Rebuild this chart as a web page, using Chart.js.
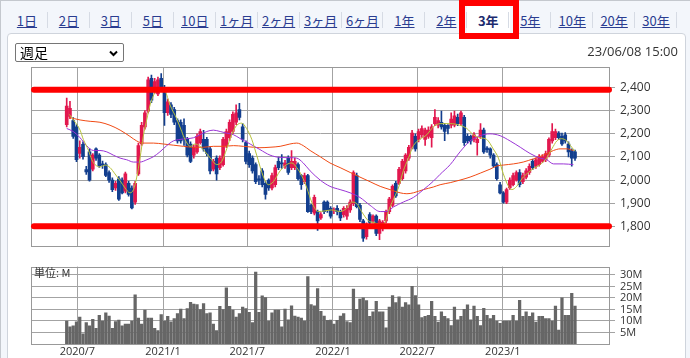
<!DOCTYPE html>
<html><head><meta charset="utf-8">
<script src="https://cdn.jsdelivr.net/npm/chart.js@4"></script>
<style>
html,body{margin:0;padding:0;width:690px;height:358px;overflow:hidden;background:#fff;}
#wrap{position:absolute;left:0;top:0;width:690px;height:358px;background:#f3f6fb;}
#outerL{position:absolute;left:0;top:0;width:1px;height:358px;background:#c4c8ce;}
#outerT{position:absolute;left:0;top:0;width:690px;height:1px;background:#c4c8ce;}
#panel{position:absolute;left:7px;top:33px;width:679px;height:340px;background:#fff;border:1px solid #cfd4dc;border-radius:4px;box-sizing:border-box;}
.tab{position:absolute;top:11px;height:18px;line-height:18px;text-align:center;font:13px "Noto Sans CJK JP",sans-serif;color:#2a3c90;z-index:3;}
.tab span{text-decoration:underline;}
.sep{position:absolute;top:12px;width:1px;height:16px;background:#d6dbe4;z-index:3;}
#selbg{position:absolute;left:467px;top:5px;width:43px;height:29px;background:#fff;z-index:2;}
#redbox{position:absolute;left:459px;top:0px;width:60px;height:39px;border:6px solid #ff0000;box-sizing:border-box;z-index:5;}
#sel{position:absolute;left:15px;top:43px;width:109px;height:19px;box-sizing:border-box;border:1px solid #767676;border-radius:2px;background:#fff;font:14px "Noto Sans CJK JP",sans-serif;line-height:17px;padding-left:4px;color:#000;z-index:4;}
#sel svg{position:absolute;right:5px;top:6px;}
#stamp{position:absolute;left:540px;top:43px;width:138px;text-align:right;font:13px "Open Sans",sans-serif;line-height:17px;color:#333;z-index:4;}
#unit{position:absolute;left:34px;top:266px;font:11px "Noto Sans CJK JP",sans-serif;line-height:13px;color:#333;z-index:4;}
canvas{position:absolute;left:0;z-index:3;}
#pc{top:55px;}
#vc{top:255px;}
</style></head>
<body>
<div id="wrap">
  <div id="outerT"></div><div id="outerL"></div>
  <div id="panel"></div>
  <div id="selbg"></div>
  <div id="tabs"></div>
  <div id="redbox"></div>
  <div id="sel">週足<svg width="9" height="7" viewBox="0 0 9 7"><path d="M1 1.5 L4.5 5 L8 1.5" fill="none" stroke="#000" stroke-width="2"/></svg></div>
  <div id="stamp">23/06/08 15:00</div>
  <canvas id="pc" width="690" height="203"></canvas>
  <canvas id="vc" width="690" height="103"></canvas>
  <div id="unit">単位: M</div>
</div>
<script>
// ---------------- data ----------------
const tabNames = ['1日','2日','3日','5日','10日','1ヶ月','2ヶ月','3ヶ月','6ヶ月','1年','2年','3年','5年','10年','20年','30年'];
const selectedTab = 11;

const firstWeek = '2020-06-08';
const gridDates = ['2020-07-01','2021-01-01','2021-07-01','2022-01-01','2022-07-01','2023-01-01'];
const gridLabels = ['2020/7','2021/1','2021/7','2022/1','2022/7','2023/1'];

const priceTicks = [1800,1900,2000,2100,2200,2300,2400];
const volumeTicks = [5,10,15,20,25,30];
const levelLines = [2390,1801];

const openP = [2240,2275,2257,2230,2115,2155,2045,2122,2047,2135,
2108,2070,2067,2033,2000,1966,2006,2000,1952,1986,
1966,1905,2027,2156,2230,2298,2440,2386,2372,2440,
2400,2291,2325,2305,2257,2250,2237,2176,2156,2108,
2122,2162,2176,2176,2135,2047,2095,2054,2067,2149,
2183,2210,2250,2305,2230,2162,2115,2095,2067,2005,
2040,1986,2000,1966,1980,2081,2075,2060,2095,2054,
2054,2067,2020,1993,2020,1891,1857,1864,1837,1905,
1905,1878,1868,1878,1864,1851,1844,1871,1898,2020,
1891,1824,1756,1851,1824,1844,1769,1790,1824,1864,
1891,1986,1986,2006,2040,2095,2142,2189,2176,2196,
2176,2189,2183,2244,2237,2250,2237,2237,2237,2237,
2271,2244,2271,2189,2189,2176,2162,2189,2216,2138,
2135,2108,2067,1980,1945,1905,1966,1980,2000,2033,
1993,2013,2033,2081,2060,2067,2081,2088,2108,2169,
2183,2203,2189,2196,2156,2128,2122];
const highP = [2355,2340,2270,2240,2170,2165,2060,2135,2115,2140,
2115,2082,2075,2040,2010,1995,2015,2010,2035,1995,
1975,1995,2160,2250,2300,2445,2454,2440,2445,2460,
2410,2350,2335,2315,2265,2260,2265,2185,2165,2150,
2200,2220,2215,2185,2145,2090,2105,2105,2185,2220,
2260,2295,2325,2332,2244,2170,2125,2105,2075,2020,
2050,1995,2005,2030,2065,2100,2110,2085,2105,2128,
2095,2075,2025,2030,2025,1895,1935,1870,1860,1910,
1910,1885,1880,1890,1870,1885,1890,1915,2040,2030,
1900,1830,1815,1860,1850,1850,1830,1825,1870,1925,
1980,1995,2055,2090,2115,2150,2215,2200,2220,2235,
2225,2230,2240,2305,2270,2298,2245,2240,2291,2298,
2285,2298,2280,2200,2195,2205,2185,2244,2225,2145,
2140,2115,2075,1990,1950,1965,2010,2030,2040,2045,
2030,2050,2070,2090,2095,2110,2110,2125,2183,2244,
2220,2210,2203,2205,2165,2135,2130];
const lowP = [2230,2265,2180,2080,2095,2090,2025,1995,2040,2085,
2055,2050,2015,1990,1950,1955,1912,1940,1945,1930,
1875,1895,2020,2150,2220,2290,2335,2375,2365,2385,
2236,2280,2270,2240,2160,2160,2150,2100,2075,2095,
2115,2155,2125,2105,2027,2040,2000,2045,2060,2140,
2170,2200,2240,2260,2165,2070,2055,2030,1985,1980,
1970,1918,1955,1958,1970,2045,2050,2050,2025,2045,
2045,2000,1960,1985,1860,1855,1850,1783,1830,1855,
1860,1835,1855,1850,1825,1840,1830,1860,1890,1880,
1820,1735,1745,1810,1815,1760,1742,1780,1815,1855,
1885,1925,1980,2000,2030,2085,2135,2125,2165,2185,
2150,2180,2142,2235,2225,2220,2170,2200,2225,2230,
2235,2235,2150,2160,2155,2165,2108,2180,2115,2120,
2095,2055,2000,1940,1900,1898,1960,1975,1995,1970,
1985,2005,2025,2045,2050,2060,2075,2080,2100,2160,
2175,2175,2150,2160,2100,2060,2085];
const closeP = [2320,2310,2189,2088,2142,2101,2035,2000,2108,2095,
2061,2065,2020,2000,1959,1986,1918,1945,2027,1938,
1880,1986,2149,2237,2291,2433,2345,2426,2433,2393,
2291,2338,2284,2250,2169,2169,2176,2108,2081,2142,
2189,2210,2135,2115,2040,2081,2027,2095,2176,2210,
2250,2284,2291,2271,2176,2081,2067,2040,1993,2000,
1980,1938,1966,2020,2054,2054,2070,2074,2033,2081,
2081,2006,1980,2020,1864,1864,1925,1824,1851,1864,
1871,1844,1872,1864,1837,1878,1878,1905,2033,1885,
1830,1749,1810,1817,1844,1769,1824,1817,1864,1918,
1973,1932,2047,2081,2108,2142,2203,2135,2210,2223,
2216,2216,2230,2271,2257,2230,2210,2223,2264,2278,
2244,2291,2162,2169,2169,2196,2176,2216,2122,2132,
2108,2061,2006,1945,1905,1959,2000,2020,2033,1980,
2020,2040,2060,2054,2088,2101,2101,2115,2176,2210,
2210,2183,2156,2169,2122,2095,2095];

const volumeM = [10.0,7.5,7.9,9.6,11.7,4.4,9.3,7.9,10.7,6.8,
12.4,10.0,13.5,12.1,6.8,9.7,10.4,7.9,8.6,8.6,
10.0,21.3,11.3,8.7,14.7,11.3,11.3,6.8,5.8,12.8,
10.0,12.0,9.6,11.0,13.2,15.2,11.0,15.4,18.1,17.3,
17.1,14.9,17.5,13.2,13.5,8.6,5.8,16.4,14.9,24.4,
16.4,14.7,11.7,13.2,16.0,15.4,13.8,9.3,31.2,13.8,
20.9,20.2,9.9,13.5,14.7,14.7,7.5,15.2,10.5,16.6,
12.1,11.7,11.3,9.9,29.3,17.1,16.6,24.1,14.2,12.1,
10.3,10.4,8.6,10.3,12.1,13.2,9.7,9.3,23.8,15,
19.5,20,18.8,12,14,18.5,14,14,7,16,
21,18,20.5,16,18,17,25,21,17,11.5,
12,12.5,18.5,12,9.5,14,12,11,8,16,
10.5,12,15,17,10.5,16.5,12,8,15.5,12.5,
11,12.5,10,9,10,10,10,12.5,10,19,
12,14,12,13.5,9.5,12,12,11,11,10,
16.5,6,20,12.5,12.5,22,16.5];

const maShort = [[0.8,2284],[2.6,2250],[4.1,2216],[5.1,2176],[6.7,2128],[7.7,2088],[8.7,2067],[10.2,2057],[11.8,2065],[13.3,2054],
[14.8,2027],[16.4,1997],[17.9,1966],[19.4,1945],[20.5,1959],[21.5,2013],[22.5,2095],[23.5,2189],[24.6,2264],[25.6,2325],
[27.1,2379],[28.6,2399],[30.2,2386],[31.7,2325],[33.8,2264],[35.3,2210],[36.3,2176],[37.9,2146],[39.4,2156],[40.9,2146],
[42.5,2122],[44.5,2088],[46.0,2067],[47.6,2081],[49.1,2135],[50.6,2196],[52.2,2237],[53.7,2246],[55.2,2223],[56.8,2176],
[58.3,2108],[60.4,2013],[61.9,1980],[63.4,1993],[65.5,2040],[67.5,2067],[69.1,2074],[70.6,2054],[72.1,2020],[73.7,1966],
[75.2,1905],[77.2,1864],[79.3,1867],[81.3,1871],[83.9,1864],[85.9,1878],[87.5,1905],[89.0,1898],[90.5,1864],[92.6,1824],
[94.1,1817],[96.2,1810],[97.7,1817],[98.7,1864],[100.3,1918],[101.8,1966],[103.3,2040],[104.9,2095],[106.4,2149],[108.4,2176],
[110.5,2196],[112.5,2230],[114.6,2244],[117.7,2244],[120.7,2237],[122.8,2223],[124.8,2196],[126.9,2183],[128.9,2176],[130.9,2135],
[132.5,2095],[134.0,2027],[135.6,1973],[136.6,1959],[138.1,1973],[139.7,2006],[141.7,2033],[143.7,2054],[145.3,2067],[147.3,2095],
[148.9,2135],[150.4,2169],[151.9,2179],[153.5,2169],[155.0,2142],[156.0,2125]];

const maMid = [[0,2223],[2,2210],[4.1,2183],[6.1,2149],[8.2,2128],[10.2,2128],[12.3,2122],[14.3,2108],[16.4,2095],[18.4,2088],
[20.5,2078],[22.5,2078],[24.6,2088],[26.6,2101],[28.6,2122],[30.7,2149],[32.7,2169],[34.8,2176],[36.8,2179],[38.9,2183],
[40.9,2196],[43,2210],[45,2216],[47.1,2210],[49.1,2203],[51.2,2196],[53.2,2180],[56.3,2156],[59.3,2132],[62.4,2108],
[65.5,2098],[68.5,2097],[70.6,2095],[72.6,2074],[74.7,2040],[77.8,2000],[80.8,1973],[83.9,1959],[87,1945],[90,1925],
[93.1,1891],[96.2,1864],[98.2,1864],[100.3,1884],[103.3,1905],[106.4,1925],[109.5,1959],[112.5,1995],[114.6,2025],[117.7,2067],
[120.7,2122],[123.8,2169],[126.9,2192],[129.9,2200],[133,2192],[136.1,2169],[139.2,2142],[142.2,2115],[145.3,2095],[147.3,2088],
[149.4,2070],[152.4,2070],[155.5,2067]];

const maLong = [[0.8,2271],[4.1,2260],[7.2,2254],[10.2,2250],[13.3,2237],[16.4,2216],[19.4,2189],[21.5,2169],[23.5,2160],[26.6,2160],
[29.7,2156],[32.7,2151],[35.8,2146],[38.9,2142],[41.9,2142],[45,2146],[48.1,2146],[51.2,2149],[54.2,2146],[57.3,2142],
[59.3,2140],[62.4,2142],[65.5,2146],[68.5,2156],[70.6,2160],[72.6,2149],[74.7,2128],[77.8,2101],[80.8,2074],[83.9,2054],
[87,2033],[90,2013],[93.1,1993],[96.2,1973],[99.2,1959],[102.3,1945],[104.4,1941],[106.4,1945],[109.5,1959],[112.5,1970],
[114.6,1980],[117.7,1989],[120.7,2000],[123.8,2013],[126.9,2030],[129.9,2047],[132,2061],[134,2065],[137.1,2070],[140.1,2078],
[143.2,2092],[146.3,2108],[149.4,2128],[151.4,2135],[153.5,2135],[155.5,2128]];

// ---------------- page chrome ----------------
const tabsEl = document.getElementById('tabs');
const cellW = 41.94;
tabNames.forEach((t,k)=>{
  const d = document.createElement('div');
  d.className='tab';
  d.style.left = (6 + k*cellW) + 'px';
  d.style.width = cellW + 'px';
  if (k === selectedTab) { d.style.fontWeight='bold'; d.style.color='#1c2b6e'; d.textContent = t; }
  else { const s=document.createElement('span'); s.textContent=t; d.appendChild(s); }
  tabsEl.appendChild(d);
  const sp = document.createElement('div');
  sp.className='sep';
  sp.style.left = (6 + (k+1)*cellW - 1) + 'px';
  tabsEl.appendChild(sp);
});

// ---------------- charts ----------------
Chart.defaults.font.family = "'Open Sans','Liberation Sans',sans-serif";
Chart.defaults.color = '#333';
const UP = '#e2174e', DOWN = '#123e8e', GRID = '#a3a3a3';
const weekMs = 7*864e5;
const gridIdx = gridDates.map(d => (Date.parse(d) - Date.parse(firstWeek)) / weekMs);
const X_MIN = -10.96, X_MAX = 166.74;

function xAxis(showLabels){
  return {
    type:'linear', min:X_MIN, max:X_MAX, offset:false,
    border:{display:false},
    grid:{offset:false, color:GRID, lineWidth:1, drawTicks:false},
    ticks:{display:showLabels, autoSkip:false, maxRotation:0, padding:1, color:'#333', font:{size:11},
      callback:(v,i)=>gridLabels[i]},
    afterBuildTicks:s=>{ s.ticks = gridIdx.map(v=>({value:v})); },
    afterFit:s=>{ s.height = showLabels ? 14 : 0; }
  };
}
const frame = { id:'frame', beforeDatasetsDraw(c){
  const {ctx, chartArea:a} = c; ctx.save(); ctx.strokeStyle='#999'; ctx.lineWidth=1;
  ctx.strokeRect(Math.round(a.left)+0.5, Math.round(a.top)+0.5, Math.round(a.right-a.left)-1, Math.round(a.bottom-a.top));
  ctx.restore(); } };
const levels = { id:'levels', afterDatasetsDraw(c){
  const {ctx, chartArea:a, scales:{y}} = c; ctx.save(); ctx.strokeStyle='#ff0000'; ctx.lineWidth=6; ctx.lineCap='round';
  levelLines.forEach(v=>{ const py=y.getPixelForValue(v); ctx.beginPath(); ctx.moveTo(a.left+3,py); ctx.lineTo(a.right-1,py); ctx.stroke(); });
  ctx.restore(); } };

const candleColor = c => closeP[c.dataIndex] >= openP[c.dataIndex] ? UP : DOWN;
const common = { responsive:false, animation:false, devicePixelRatio:1, events:[],
  plugins:{legend:{display:false}, tooltip:{enabled:false}} };

new Chart(document.getElementById('pc'), {
  type:'bar',
  data:{ datasets:[
    { type:'line', data:maShort.map(([x,y])=>({x,y})), borderColor:'#b6c23a', borderWidth:1, pointRadius:0, tension:0.4, cubicInterpolationMode:'monotone', order:0 },
    { type:'line', data:maMid.map(([x,y])=>({x,y})), borderColor:'#9a34d6', borderWidth:1, pointRadius:0, tension:0.4, cubicInterpolationMode:'monotone', order:0 },
    { type:'line', data:maLong.map(([x,y])=>({x,y})), borderColor:'#f04a14', borderWidth:1, pointRadius:0, tension:0.4, cubicInterpolationMode:'monotone', order:0 },
    { type:'bar', data:highP.map((h,i)=>({x:i, y:[lowP[i], h]})), backgroundColor:candleColor, barThickness:1, grouped:false, order:2 },
    { type:'bar', data:openP.map((o,i)=>({x:i, y:[o, closeP[i]]})), backgroundColor:candleColor, barThickness:3, minBarLength:1, grouped:false, order:1 }
  ]},
  options:Object.assign({}, common, {
    layout:{padding:{left:31, top:8, right:0, bottom:5}},
    scales:{
      x:xAxis(false),
      y:{ position:'right', min:1716, max:2488, beginAtZero:false,
        border:{display:false},
        grid:{color:GRID, lineWidth:1, tickLength:5, drawTicks:true},
        ticks:{autoSkip:false, padding:5, color:'#333', font:{size:12}, callback:v=>v.toLocaleString('en-US')},
        afterBuildTicks:s=>{ s.ticks = priceTicks.map(v=>({value:v})); },
        afterFit:s=>{ s.width = 80; } }
    }
  }),
  plugins:[frame, levels]
});

new Chart(document.getElementById('vc'), {
  type:'bar',
  data:{ datasets:[
    { data:volumeM.map((v,i)=>({x:i, y:v})), backgroundColor:'#666666', barThickness:2.6, grouped:false }
  ]},
  options:Object.assign({}, common, {
    layout:{padding:{left:31, top:9, right:0, bottom:0}},
    scales:{
      x:xAxis(true),
      y:{ position:'right', min:0, max:33.6,
        border:{display:false},
        grid:{color:GRID, lineWidth:1, tickLength:5, drawTicks:true},
        ticks:{autoSkip:false, padding:5, color:'#333', font:{size:11}, callback:v=>v+'M'},
        afterBuildTicks:s=>{ s.ticks = volumeTicks.map(v=>({value:v})); },
        afterFit:s=>{ s.width = 80; } }
    }
  }),
  plugins:[frame]
});
</script>
</body></html>
